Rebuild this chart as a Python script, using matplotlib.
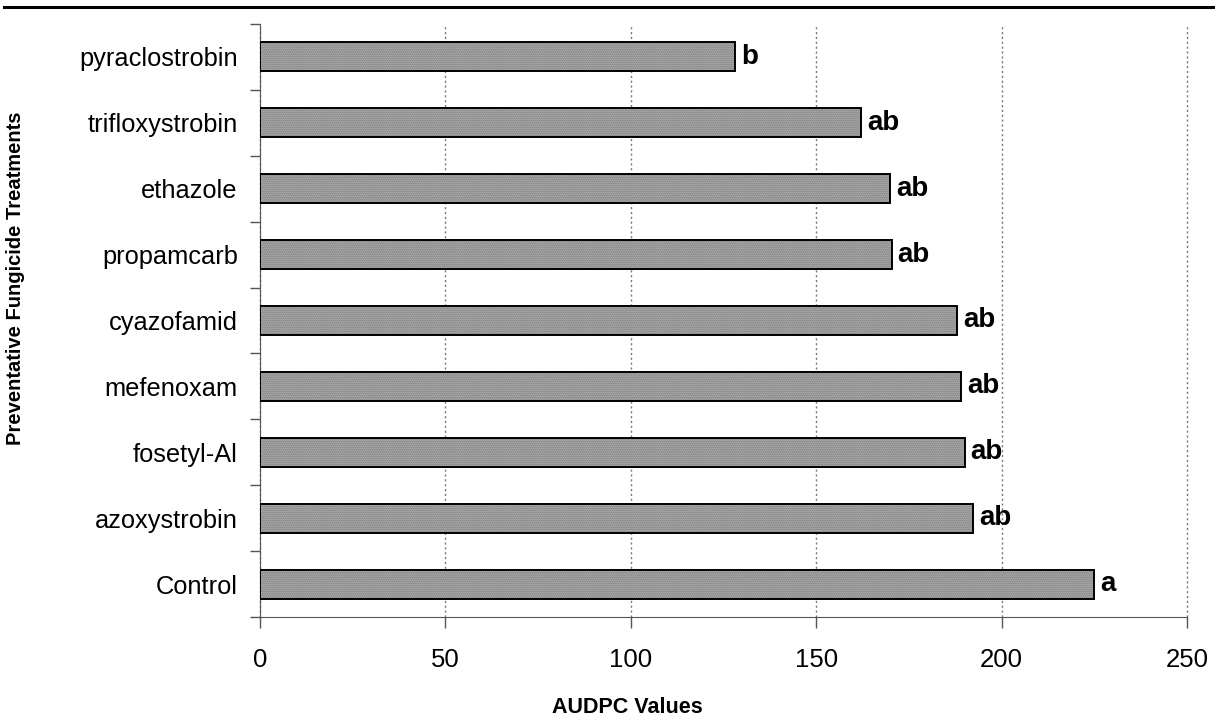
import matplotlib.pyplot as plt
import numpy as np

treatments = ["Control", "azoxystrobin", "fosetyl-Al", "mefenoxam", "cyazofamid",
              "propamcarb", "ethazole", "trifloxystrobin", "pyraclostrobin"]
audpc = [225.0, 192.4, 190.0, 189.0, 188.0, 170.3, 169.9, 162.2, 128.2]
groups = ["a", "ab", "ab", "ab", "ab", "ab", "ab", "ab", "b"]

plt.rcParams['font.family'] = ['Liberation Sans', 'DejaVu Sans']

fig = plt.figure(figsize=(12.15, 7.17), dpi=100)
ax = fig.add_axes([0.214, 0.1395, 0.763, 0.827])

ypos = np.arange(len(treatments))
# stippled fill first, then the black outline on top
ax.barh(ypos, audpc, height=0.44, color="#bfbfbf", edgecolor="#6c6c6c",
        linewidth=0, hatch="........", zorder=3)
ax.barh(ypos, audpc, height=0.44, fill=False, edgecolor="black",
        linewidth=1.4, zorder=4)

# significance letters next to each bar
for y, v, g in zip(ypos, audpc, groups):
    ax.text(v + 1.6, y, g, ha="left", va="center", fontsize=20,
            fontweight="bold", zorder=5)

ax.set_xlim(0, 250)
ax.set_ylim(-0.5, len(treatments) - 0.5)
ax.set_xticks(np.arange(0, 251, 50))
ax.set_yticks(ypos)
ax.set_yticklabels(treatments, fontsize=18.3)
ax.set_yticks(np.arange(-0.5, len(treatments), 1), minor=True)
ax.tick_params(axis="y", which="major", length=0, pad=16)
ax.tick_params(axis="y", which="minor", length=7, width=1, color="#555555")
ax.tick_params(axis="x", length=8, width=1, color="#555555", labelsize=18.5, pad=14)

ax.xaxis.grid(True, linestyle=(0, (1.5, 2)), color="#777777", linewidth=1, zorder=0)
for line in ax.get_xgridlines():
    line.set_clip_on(False)
for s in ["top", "right"]:
    ax.spines[s].set_visible(False)
ax.spines["left"].set_color("#555555")
ax.spines["bottom"].set_color("#555555")

ax.set_xlabel("AUDPC Values", fontsize=15.5, fontweight="bold")
ax.xaxis.set_label_coords(0.396, -0.135)
ax.set_ylabel("Preventative Fungicide Treatments", fontsize=14.5, fontweight="bold")
ax.yaxis.set_label_coords(-0.2535, 0.572)

# rule across the top of the figure
fig.add_artist(plt.Line2D([0.003, 1.0], [0.990, 0.990], color="black",
                          linewidth=2.2, transform=fig.transFigure))

fig.savefig("out.png", dpi=100)
